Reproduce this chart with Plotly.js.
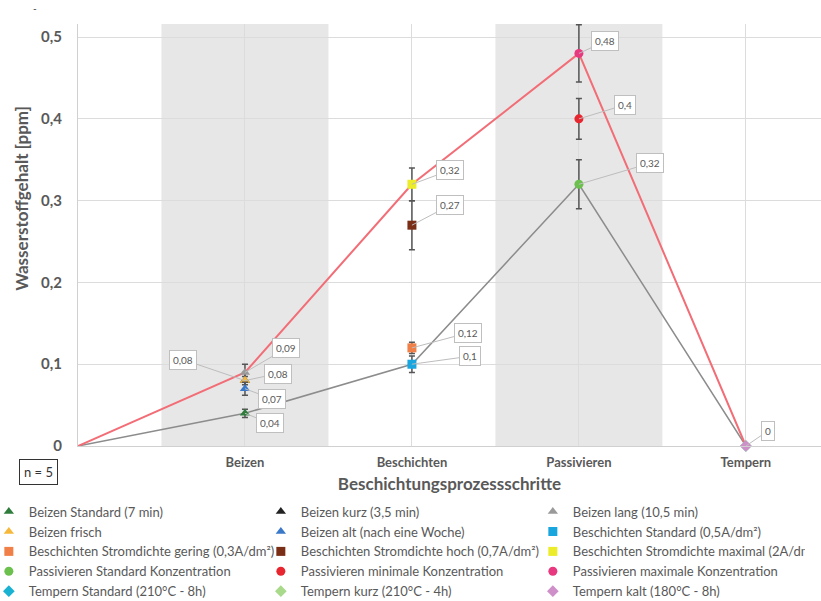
<!DOCTYPE html>
<html>
<head>
<meta charset="utf-8">
<script src="https://cdn.plot.ly/plotly-3.0.1.min.js"></script>
<style>html,body{margin:0;padding:0;background:#fff;}#chart{width:821px;height:601px;}</style>
</head>
<body>
<div id="chart"></div>
<script>
// Category axis
const categories = ["Beizen", "Beschichten", "Passivieren", "Tempern"];
const yTickVals = [0, 0.1, 0.2, 0.3, 0.4, 0.5];
const yTickText = ["0", "0,1", "0,2", "0,3", "0,4", "0,5"];

// Connecting lines (start at origin, then each process step)
const lineX = [-1, 0, 1, 2, 3];
const lineMaxY = [0, 0.09, 0.32, 0.48, 0];
const lineStdY = [0, 0.04, 0.10, 0.32, 0];

// Series: name, category index, value, error
const seriesNames = [
  "Beizen Standard (7 min)", "Beizen kurz (3,5 min)", "Beizen lang (10,5 min)",
  "Beizen frisch", "Beizen alt (nach eine Woche)", "Beschichten Standard (0,5A/dm²)",
  "Beschichten Stromdichte gering (0,3A/dm²)", "Beschichten Stromdichte hoch (0,7A/dm²)", "Beschichten Stromdichte maximal (2A/dm²)",
  "Passivieren Standard Konzentration", "Passivieren minimale Konzentration", "Passivieren maximale Konzentration",
  "Tempern Standard (210°C - 8h)", "Tempern kurz (210°C - 4h)", "Tempern kalt (180°C - 8h)"
];
const seriesCat = [0, 0, 0, 0, 0, 1, 1, 1, 1, 2, 2, 2, 3, 3, 3];
const seriesVal = [0.04, 0.08, 0.09, 0.08, 0.07, 0.10, 0.12, 0.27, 0.32, 0.32, 0.40, 0.48, 0, 0, 0];
const seriesErr = [0.005, 0.01, 0.01, 0.005, 0.008, 0.01, 0.007, 0.03, 0.02, 0.03, 0.025, 0.035, 0, 0, 0];
const seriesColor = ["#2f7d3c", "#222222", "#9a9a9a", "#f6b83a", "#3a78c9", "#19a5de",
  "#f08048", "#7a2e16", "#ecec2a", "#6cc04e", "#e82630", "#e8387f", "#1ab2d2", "#a9da8c", "#cf90c9"];
const seriesSymbol = ["triangle-up", "triangle-up", "triangle-up", "triangle-up", "triangle-up",
  "square", "square", "square", "square", "circle", "circle", "circle", "diamond", "diamond", "diamond"];

// Data labels: text, series index, offset
const labelText = ["0,08", "0,09", "0,08", "0,07", "0,04", "0,32", "0,27", "0,12", "0,1", "0,48", "0,4", "0,32", "0"];
const labelSeries = [1, 2, 3, 4, 0, 8, 7, 6, 5, 11, 10, 9, 12];
const labelAx = [-62, 41, 33, 27, 25, 38, 38, 56, 58, 26, 46, 71, 22];
const labelAy = [-21, -24, -7, 10, 10, -14, -20, -15, -8, -12, -14, -21, -15];

const textColor = "#595959";
const font = "Lato, 'Open Sans', sans-serif";

const traces = [];
traces.push({x: lineX, y: lineStdY, mode: "lines", line: {color: "#8c8c8c", width: 1.5}, showlegend: false, hoverinfo: "skip"});
traces.push({x: lineX, y: lineMaxY, mode: "lines", line: {color: "#f26d76", width: 2}, showlegend: false, hoverinfo: "skip"});
for (let i = 0; i < seriesNames.length; i++) {
  traces.push({
    x: [seriesCat[i]], y: [seriesVal[i]], name: seriesNames[i], mode: "markers",
    marker: {color: seriesColor[i], symbol: seriesSymbol[i], size: 9},
    error_y: {type: "data", array: [seriesErr[i]], visible: seriesErr[i] > 0, color: "#555555", thickness: 1.5, width: 3},
    cliponaxis: false
  });
}

const annotations = labelText.map((t, k) => ({
  x: seriesCat[labelSeries[k]], y: seriesVal[labelSeries[k]], xref: "x", yref: "y",
  text: t, showarrow: true, arrowhead: 0, arrowwidth: 1, arrowcolor: "#bdbdbd",
  ax: labelAx[k], ay: labelAy[k], bgcolor: "#ffffff", bordercolor: "#bfbfbf", borderwidth: 1, borderpad: 3,
  font: {family: font, size: 10, color: textColor}
}));
annotations.push({
  xref: "paper", yref: "paper", x: -0.0525, y: -0.0616, xanchor: "center", yanchor: "middle",
  text: "n = 5", showarrow: false,
  bordercolor: "#333333", borderwidth: 1, borderpad: 4, bgcolor: "#ffffff",
  font: {family: font, size: 13, color: "#333333"}
});
annotations.push({
  xref: "paper", yref: "paper", x: -0.0754, y: 0.588, xanchor: "center", yanchor: "middle",
  text: "Wasserstoffgehalt [ppm]", textangle: -90, showarrow: false,
  font: {family: font, size: 17, color: textColor, weight: "bold"}
});
annotations.push({
  xref: "paper", yref: "paper", x: -0.058, y: 1.038, xanchor: "center", yanchor: "middle", text: "-", showarrow: false,
  font: {family: font, size: 10, color: "#333"}
});

const shapes = [
  {type: "rect", layer: "below", xref: "x", yref: "paper", x0: -0.5, x1: 0.5, y0: 0, y1: 1, fillcolor: "#e7e7e7", line: {width: 0}},
  {type: "rect", layer: "below", xref: "x", yref: "paper", x0: 1.5, x1: 2.5, y0: 0, y1: 1, fillcolor: "#e7e7e7", line: {width: 0}}
];

const layout = {
  width: 821, height: 601,
  margin: {l: 78, r: 0, t: 24, b: 155, autoexpand: false},
  paper_bgcolor: "#ffffff", plot_bgcolor: "#ffffff",
  font: {family: font, color: textColor},
  xaxis: {
    range: [-1, 3.45], tickvals: [0, 1, 2, 3], ticktext: categories,
    showgrid: true, gridcolor: "#dcdcdc", zeroline: false, showline: true, linecolor: "#d0d0d0",
    tickfont: {family: font, size: 13, color: textColor, weight: "bold"}, ticks: "", ticklabelstandoff: 4,
    title: {text: "Beschichtungsprozessschritte", font: {family: font, size: 17, color: textColor, weight: "bold"}, standoff: 9}
  },
  yaxis: {
    range: [0, 0.516], tickvals: yTickVals, ticktext: yTickText,
    showgrid: true, gridcolor: "#dcdcdc", zeroline: false, showline: true, linecolor: "#d0d0d0",
    tickfont: {family: font, size: 15, color: textColor, weight: "bold"}, ticks: "", ticklabelstandoff: 12
  },
  legend: {
    orientation: "h", x: -0.12, xanchor: "left", y: -0.12, yanchor: "top",
    entrywidth: 227, entrywidthmode: "pixels", itemwidth: 30,
    font: {family: font, size: 13, color: textColor}, bgcolor: "rgba(0,0,0,0)"
  },
  shapes: shapes, annotations: annotations, showlegend: true
};

Plotly.newPlot("chart", traces, layout, {displayModeBar: false, staticPlot: true});
</script>
</body>
</html>
